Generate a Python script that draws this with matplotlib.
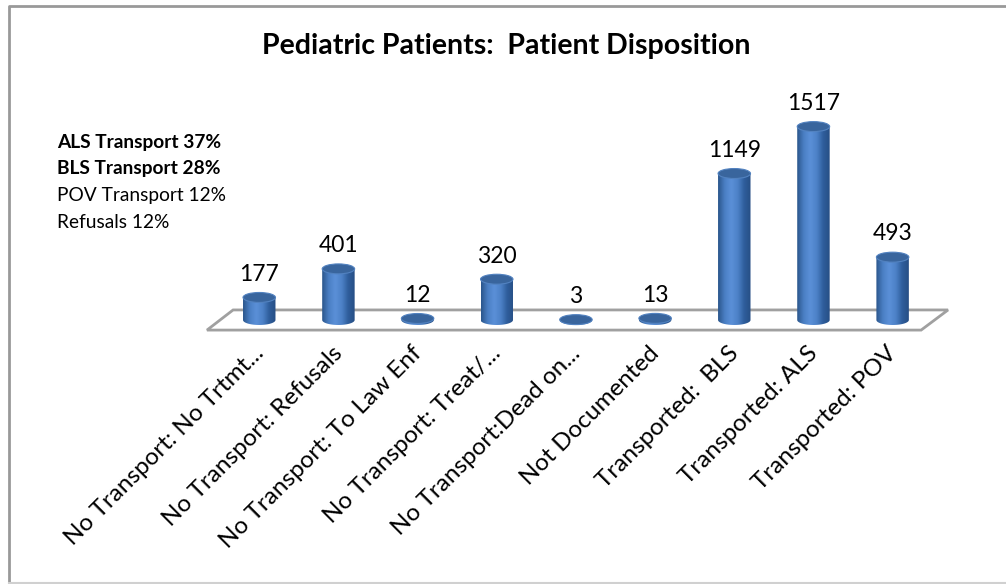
import numpy as np
import matplotlib.pyplot as plt
from matplotlib.patches import Ellipse, Polygon, PathPatch
from matplotlib.path import Path
from matplotlib.lines import Line2D
from matplotlib.colors import LinearSegmentedColormap

plt.rcParams['font.family'] = ['Lato', 'DejaVu Sans']

categories = ['No Transport: No Trtmt...', 'No Transport: Refusals', 'No Transport: To Law Enf',
              'No Transport: Treat/...', 'No Transport:Dead on...', 'Not Documented',
              'Transported:  BLS', 'Transported: ALS', 'Transported: POV']
values = [177, 401, 12, 320, 3, 13, 1149, 1517, 493]
notes = ['ALS Transport 37%', 'BLS Transport 28%', 'POV Transport 12%', 'Refusals 12%']
notes_bold = [True, True, False, False]

fig = plt.figure(figsize=(10.06, 5.84), dpi=100)

# chart area border (right side runs off the picture)
bx, by_top, by_bot = 8.5 / 1006, 1 - 5.5 / 584, 1.2 / 584
fig.lines.append(Line2D([1.0, bx, bx], [by_top, by_top, by_bot], transform=fig.transFigure,
                        color='#999999', linewidth=2))
fig.lines.append(Line2D([bx, 1.0], [by_bot, by_bot], transform=fig.transFigure,
                        color='#d0d0d0', linewidth=1.5))

ax = fig.add_axes([0.179, 0.3647, 0.787, 0.524])
ax.set_axis_off()

# floor of the 3D plot
floor = Polygon([(-0.66, -79), (8.36, -79), (8.70, 79), (-0.33, 79)],
                closed=True, facecolor='white', edgecolor='#a0a0a0', linewidth=2, zorder=1)
ax.add_patch(floor)

cmap = LinearSegmentedColormap.from_list('cyl', ['#2b568c', '#4a7fc4', '#5b90d8', '#4d82c8', '#2f5e9c', '#274f85'])
grad = np.linspace(0, 1, 64).reshape(1, -1)

w = 0.41      # cylinder width in category units
eh = 78       # ellipse height in value units
for i, v in enumerate(values):
    x0, x1 = i - w / 2, i + w / 2
    t = np.linspace(np.pi, 2 * np.pi, 40)
    arc = np.column_stack([i + w / 2 * np.cos(t), eh / 2 * np.sin(t)])
    verts = np.vstack([[[x0, v]], arc, [[x1, v]], [[x0, v]]])
    clip = PathPatch(Path(verts, closed=True), transform=ax.transData, facecolor='none', edgecolor='none')
    ax.add_patch(clip)
    im = ax.imshow(grad, cmap=cmap, aspect='auto', extent=[x0, x1, -eh / 2, v],
                   interpolation='bicubic', zorder=2)
    im.set_clip_path(clip)
    ax.add_patch(Ellipse((i, v), w, eh, facecolor='#39659d', edgecolor='#5282c0',
                         linewidth=0.8, zorder=3))
    ax.annotate(str(v), xy=(i, v), xytext=(0, 12), textcoords='offset points',
                ha='center', va='baseline', fontsize=16.5, color='#000000', zorder=4)

for i, lab in enumerate(categories):
    ax.text(i - 0.08, -175, lab, rotation=45, rotation_mode='anchor', ha='right', va='top',
            fontsize=17.5, color='#000000')

ax.set_xlim(-1, 9)
ax.set_ylim(-400, 2000)

fig.text(0.503, 1 - 54 / 584, 'Pediatric Patients:  Patient Disposition', ha='center', va='baseline',
         fontsize=20.5, fontweight='bold')

for k, (txt, b) in enumerate(zip(notes, notes_bold)):
    fig.text(0.057, 1 - (148 + 26.5 * k) / 584, txt, ha='left', va='baseline', fontsize=13.8,
             fontweight='bold' if b else 'normal')

fig.savefig('out.png', dpi=100)
